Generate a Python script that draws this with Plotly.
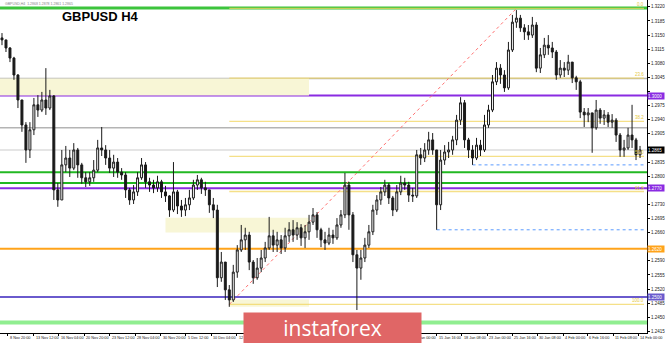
import plotly.graph_objects as go

# ---------------- data ----------------
first_open = 1.3143
closes = [1.3138, 1.3118, 1.3093, 1.3051, 1.2989, 1.2927, 1.2865, 1.2915, 1.2977, 1.2964,
          1.2989, 1.2969, 1.2999, 1.2766, 1.2741, 1.2828, 1.2845, 1.2820, 1.2865, 1.2828,
          1.2796, 1.2786, 1.2796, 1.2815, 1.2870, 1.2865, 1.2845, 1.2820, 1.2835, 1.2810,
          1.2803, 1.2766, 1.2741, 1.2761, 1.2796, 1.2828, 1.2786, 1.2778, 1.2771, 1.2786,
          1.2761, 1.2751, 1.2716, 1.2761, 1.2726, 1.2716, 1.2729, 1.2746, 1.2778, 1.2791,
          1.2771, 1.2766, 1.2729, 1.2716, 1.2548, 1.2587, 1.2518, 1.2493, 1.2562, 1.2617,
          1.2642, 1.2654, 1.2587, 1.2548, 1.2572, 1.2597, 1.2622, 1.2652, 1.2629, 1.2642,
          1.2622, 1.2652, 1.2667, 1.2654, 1.2672, 1.2647, 1.2662, 1.2686, 1.2704, 1.2667,
          1.2642, 1.2634, 1.2654, 1.2647, 1.2679, 1.2704, 1.2778, 1.2704, 1.2605, 1.2572,
          1.2597, 1.2629, 1.2662, 1.2716, 1.2741, 1.2761, 1.2778, 1.2746, 1.2716, 1.2761,
          1.2783, 1.2778, 1.2753, 1.2751, 1.2853, 1.2845, 1.2865, 1.2890, 1.2865, 1.2729,
          1.2840, 1.2860, 1.2865, 1.2890, 1.2939, 1.2982, 1.2890, 1.2865, 1.2845, 1.2877,
          1.2865, 1.2927, 1.2964, 1.3034, 1.3068, 1.3051, 1.3019, 1.3113, 1.3182, 1.3192,
          1.3168, 1.3158, 1.3150, 1.3175, 1.3068, 1.3101, 1.3125, 1.3118, 1.3108, 1.3051,
          1.3068, 1.3063, 1.3083, 1.3044, 1.3034, 1.2959, 1.2952, 1.2957, 1.2920, 1.2964,
          1.2944, 1.2952, 1.2934, 1.2939, 1.2902, 1.2865, 1.2870, 1.2902, 1.2890, 1.2853,
          1.2865]
highs = [1.3155, 1.3138, 1.3120, 1.3096, 1.3053, 1.2989, 1.2934, 1.2934, 1.2994, 1.3001,
         1.3009, 1.3068, 1.3014, 1.3001, 1.2783, 1.2865, 1.2875, 1.2865, 1.2882, 1.2870,
         1.2833, 1.2810, 1.2810, 1.2840, 1.2890, 1.2922, 1.2877, 1.2865, 1.2853, 1.2845,
         1.2820, 1.2810, 1.2771, 1.2778, 1.2810, 1.2845, 1.2835, 1.2796, 1.2791, 1.2801,
         1.2791, 1.2776, 1.2753, 1.2835, 1.2766, 1.2741, 1.2746, 1.2766, 1.2791, 1.2803,
         1.2796, 1.2786, 1.2766, 1.2746, 1.2729, 1.2612, 1.2587, 1.2530, 1.2580, 1.2629,
         1.2679, 1.2672, 1.2662, 1.2592, 1.2597, 1.2617, 1.2637, 1.2699, 1.2667, 1.2662,
         1.2654, 1.2672, 1.2686, 1.2691, 1.2686, 1.2681, 1.2679, 1.2704, 1.2721, 1.2711,
         1.2672, 1.2662, 1.2672, 1.2667, 1.2696, 1.2716, 1.2808, 1.2786, 1.2711, 1.2617,
         1.2617, 1.2647, 1.2679, 1.2729, 1.2753, 1.2773, 1.2791, 1.2783, 1.2751, 1.2778,
         1.2801, 1.2796, 1.2786, 1.2771, 1.2865, 1.2870, 1.2882, 1.2910, 1.2907, 1.2865,
         1.2865, 1.2877, 1.2885, 1.2900, 1.2952, 1.2996, 1.2989, 1.2895, 1.2877, 1.2895,
         1.2890, 1.2952, 1.2977, 1.3051, 1.3083, 1.3078, 1.3063, 1.3133, 1.3200, 1.3212,
         1.3200, 1.3177, 1.3175, 1.3195, 1.3182, 1.3118, 1.3143, 1.3150, 1.3133, 1.3113,
         1.3088, 1.3083, 1.3101, 1.3083, 1.3049, 1.3039, 1.2969, 1.2969, 1.2957, 1.2989,
         1.2969, 1.2964, 1.2959, 1.2954, 1.2944, 1.2907, 1.2890, 1.2920, 1.2977, 1.2895,
         1.2875]
lows = [1.3125, 1.3108, 1.3083, 1.3039, 1.2969, 1.2910, 1.2833, 1.2845, 1.2902, 1.2947,
        1.2959, 1.2952, 1.2964, 1.2741, 1.2724, 1.2741, 1.2810, 1.2798, 1.2815, 1.2796,
        1.2781, 1.2773, 1.2776, 1.2786, 1.2810, 1.2850, 1.2828, 1.2808, 1.2798, 1.2796,
        1.2791, 1.2746, 1.2729, 1.2731, 1.2751, 1.2791, 1.2771, 1.2761, 1.2758, 1.2761,
        1.2746, 1.2736, 1.2699, 1.2711, 1.2706, 1.2699, 1.2701, 1.2716, 1.2741, 1.2766,
        1.2756, 1.2751, 1.2709, 1.2696, 1.2525, 1.2538, 1.2493, 1.2476, 1.2488, 1.2548,
        1.2612, 1.2617, 1.2567, 1.2533, 1.2543, 1.2562, 1.2587, 1.2617, 1.2612, 1.2612,
        1.2607, 1.2612, 1.2637, 1.2637, 1.2642, 1.2627, 1.2622, 1.2642, 1.2679, 1.2647,
        1.2624, 1.2617, 1.2629, 1.2632, 1.2642, 1.2672, 1.2696, 1.2667, 1.2587, 1.2468,
        1.2543, 1.2587, 1.2622, 1.2654, 1.2704, 1.2729, 1.2751, 1.2731, 1.2701, 1.2711,
        1.2753, 1.2766, 1.2736, 1.2736, 1.2746, 1.2828, 1.2835, 1.2853, 1.2853, 1.2667,
        1.2716, 1.2828, 1.2845, 1.2853, 1.2877, 1.2927, 1.2870, 1.2845, 1.2828, 1.2840,
        1.2850, 1.2860, 1.2920, 1.2959, 1.3026, 1.3029, 1.3009, 1.3014, 1.3108, 1.3168,
        1.3158, 1.3138, 1.3138, 1.3143, 1.3058, 1.3056, 1.3093, 1.3101, 1.3093, 1.3039,
        1.3044, 1.3046, 1.3051, 1.3031, 1.3014, 1.2944, 1.2922, 1.2934, 1.2858, 1.2915,
        1.2930, 1.2927, 1.2922, 1.2920, 1.2885, 1.2848, 1.2848, 1.2865, 1.2870, 1.2840,
        1.2845]
opens = [first_open] + closes[:-1]
bars = list(range(len(closes)))

# price axis ticks
price_ticks = [1.2415, 1.2450, 1.2485, 1.2520, 1.2555, 1.2590, 1.2625, 1.2660,
               1.2695, 1.2730, 1.2765, 1.2800, 1.2835, 1.2870, 1.2905, 1.2940,
               1.2975, 1.3010, 1.3045, 1.3080, 1.3115, 1.3150, 1.3185, 1.3220]
price_range = [1.2411, 1.3237]

# time axis labels (bar index where each label starts)
date_labels = ["6 Nov 04:00", "8 Nov 20:00", "13 Nov 12:00", "16 Nov 04:00", "20 Nov 20:00",
               "23 Nov 12:00", "28 Nov 04:00", "30 Nov 20:00", "5 Dec 12:00", "10 Dec 04:00",
               "12 Dec 20:00", "11 Jan 00:00", "15 Jan 16:00", "18 Jan 08:00", "23 Jan 00:00",
               "25 Jan 16:00", "30 Jan 08:00", "4 Feb 00:00", "6 Feb 16:00", "11 Feb 08:00",
               "14 Feb 00:00"]
date_bars = [-4.9, 1.5, 7.9, 14.25, 20.6, 27, 33.4, 39.75, 46.1, 52.5,
             58.9, 102.75, 109, 115.25, 121.75, 128, 134.25, 140.75, 146.75, 153.25,
             159.5]

# horizontal levels
green_levels = [1.3217, 1.2810, 1.2783]
grey_levels = [1.3042, 1.2920]
current_price = 1.2865
violet_levels = [1.3000, 1.2770]
orange_level = 1.2620
slate_level = 1.2500
lightgreen_level = 1.2437

# fibonacci retracement
fib_ratios = ["0.0", "23.6", "38.2", "50.0", "61.8", "100.0"]
fib_levels = [1.3216, 1.3043, 1.2936, 1.2849, 1.2762, 1.2482]
fib_bars = [57, 129]

# dotted blue lines (start bar, price)
blue_bars = [109, 118]
blue_prices = [1.2667, 1.2828]

# zones (start bar, end bar, low, high)
zone_start = [None, 41, 57]
zone_end = [77, 77, 77]
zone_low = [1.3000, 1.2660, 1.2476]
zone_high = [1.3042, 1.2697, 1.2494]

# ---------------- figure ----------------
FONT = "Liberation Sans, Arial, sans-serif"
fig = go.Figure()

fig.add_trace(go.Candlestick(
    x=bars, open=opens, high=highs, low=lows, close=closes,
    increasing=dict(line=dict(color="#1a1a1a", width=1), fillcolor="#ffffff"),
    decreasing=dict(line=dict(color="#1a1a1a", width=1), fillcolor="#1a1a1a"),
    whiskerwidth=0, hoverinfo="skip", showlegend=False,
))

shapes = []
for s, e, lo, hi in zip(zone_start, zone_end, zone_low, zone_high):
    x0 = -0.5 if s is None else s
    shapes.append(dict(type="rect", xref="x", yref="y", x0=x0, x1=e, y0=lo, y1=hi,
                       fillcolor="#f8f6d6", line=dict(width=0), layer="below"))


def hline(y, color, width, dash="solid", x0=None):
    if x0 is None:
        return dict(type="line", xref="paper", x0=0, x1=1, yref="y", y0=y, y1=y,
                    line=dict(color=color, width=width, dash=dash), layer="below")
    return dict(type="line", xref="x", x0=x0, x1=161, yref="y", y0=y, y1=y,
                line=dict(color=color, width=width, dash=dash), layer="below")


for g in grey_levels:
    shapes.append(hline(g, "#b4b4b4", 1.5))
shapes.append(hline(current_price, "#dcdcdc", 1.5))
for lv in fib_levels:
    shapes.append(hline(lv, "rgba(242,214,96,0.75)", 1.3, x0=fib_bars[0]))
for b, p in zip(blue_bars, blue_prices):
    shapes.append(hline(p, "#5b9bff", 1, dash="dot", x0=b))
shapes.append(hline(green_levels[0], "#3cc43c", 3))
for g in green_levels[1:]:
    shapes.append(hline(g, "#22b822", 2))
for v in violet_levels:
    shapes.append(hline(v, "#8a2be2", 2))
shapes.append(hline(orange_level, "#ffa31a", 2))
shapes.append(hline(slate_level, "#6a5acd", 2))
shapes.append(hline(lightgreen_level, "#90ee90", 4))
# fib diagonal
shapes.append(dict(type="line", xref="x", yref="y", x0=fib_bars[0], x1=fib_bars[1],
                   y0=fib_levels[-1], y1=fib_levels[0],
                   line=dict(color="#ff7070", width=1, dash="dot"), layer="below"))

# right-side price boxes
box_values = [violet_levels[0], current_price, violet_levels[1], orange_level, slate_level]
box_colors = ["#8a2be2", "#000000", "#8a2be2", "#ffa31a", "#6a5acd"]

# tick labels hidden where a price box covers them
tick_text = ["" if any(abs(t - b) < 0.0012 for b in box_values) else f"{t:.4f}"
             for t in price_ticks]

annotations = []
annotations.append(dict(xref="paper", yref="paper", x=0.004, y=1.0, xanchor="left", yanchor="top",
                        text="GBPUSD,H4  1.2868 1.2878 1.2861 1.2865", showarrow=False,
                        font=dict(family=FONT, size=3.5, color="#888888")))
annotations.append(dict(xref="paper", yref="paper", x=0.0925, y=0.949, xanchor="left", yanchor="middle",
                        text="<b>GBPUSD H4</b>", showarrow=False,
                        font=dict(family=FONT, size=13, color="#000000")))
for r, lv in zip(fib_ratios, fib_levels):
    annotations.append(dict(xref="paper", yref="y", x=0.998, y=lv, xanchor="right", yanchor="bottom",
                            text=r, showarrow=False, yshift=-1,
                            font=dict(family=FONT, size=4.5, color="#e6c83c")))
for lab, b in zip(date_labels, date_bars):
    annotations.append(dict(xref="x", yref="paper", x=b, y=0, xanchor="left", yanchor="top",
                            text=lab, showarrow=False, yshift=-1,
                            font=dict(family=FONT, size=3.8, color="#222222")))
for val, col in zip(box_values, box_colors):
    annotations.append(dict(xref="paper", yref="y", x=1, y=val, xanchor="left", yanchor="middle",
                            text=f"{val:.4f}", showarrow=False, bgcolor=col, width=16, height=6,
                            borderpad=0, align="left",
                            font=dict(family=FONT, size=4.5, color="#ffffff")))
annotations.append(dict(xref="paper", yref="paper", x=0.5139, y=0.015, xanchor="center", yanchor="middle",
                        text="instaforex", showarrow=False, bgcolor="#e06666", width=177, height=30,
                        borderpad=0, font=dict(family="Open Sans, sans-serif", size=21, color="#ffffff")))

fig.update_layout(
    width=665, height=343, autosize=False,
    margin=dict(l=0, r=16, t=0, b=10),
    paper_bgcolor="#ffffff", plot_bgcolor="#ffffff",
    shapes=shapes, annotations=annotations, showlegend=False,
    xaxis=dict(range=[-0.5, 161.75], rangeslider=dict(visible=False), showgrid=False,
               zeroline=False, showline=True, linecolor="#000000", linewidth=1,
               tickvals=date_bars, ticks="outside", ticklen=2, tickcolor="#000000",
               showticklabels=False),
    yaxis=dict(range=price_range, side="right", showgrid=False, zeroline=False,
               showline=True, linecolor="#000000", linewidth=1,
               tickvals=price_ticks, ticktext=tick_text,
               ticks="outside", ticklen=2, tickcolor="#000000",
               tickfont=dict(family=FONT, size=4.5, color="#222222")),
)

fig.write_html("out.html", config={"displayModeBar": False, "staticPlot": True},
               post_script="document.body.style.margin='0';")
